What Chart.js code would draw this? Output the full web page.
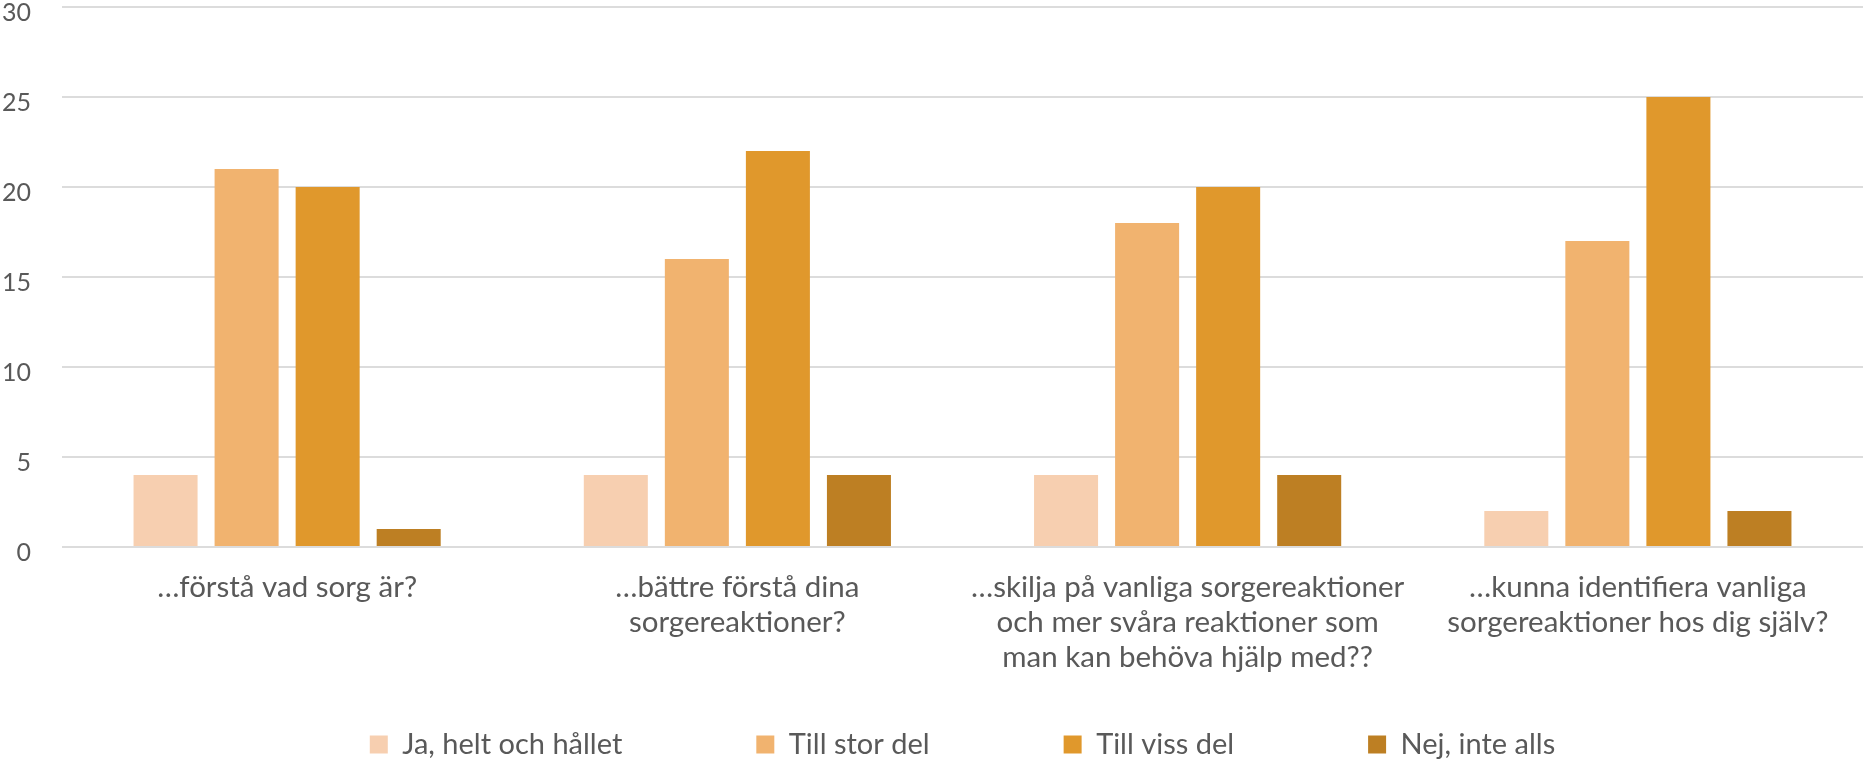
<!DOCTYPE html>
<html>
<head>
<meta charset="utf-8">
<script src="https://cdn.jsdelivr.net/npm/chart.js@4"></script>
<style>
  html, body { margin: 0; padding: 0; background: #fff; }
  #wrap { width: 1864px; height: 761px; }
</style>
</head>
<body>
<div id="wrap"><canvas id="sorgChart" width="1864" height="761"></canvas></div>
<script>
// data
const categories = [
	'…förstå vad sorg är?',
	['…bättre förstå dina', 'sorgereaktioner?'],
	['…skilja på vanliga sorgereaktioner', 'och mer svåra reaktioner som', 'man kan behöva hjälp med??'],
	['…kunna identifiera vanliga', 'sorgereaktioner hos dig själv?'],
]
const seriesNames = ['Ja, helt och hållet', 'Till stor del', 'Till viss del', 'Nej, inte alls']
const jaHelt = [4, 4, 4, 2]
const tillStor = [21, 16, 18, 17]
const tillViss = [20, 22, 20, 25]
const nejInte = [1, 4, 4, 2]
const yTicks = [0, 5, 10, 15, 20, 25, 30]

const colors = ['#F7CFB0', '#F1B36F', '#E0982C', '#BD7F23']
const textColor = '#595959'

// legend row sits at the very bottom, items spread out wide
const legendRow = {
	id: 'legendRow',
	afterLayout(chart) {
		const lg = chart.legend
		const pad = lg.options.labels.padding
		lg.top = lg.bottom - pad - 31
	},
}

const chartData = {
	labels: categories,
	datasets: [jaHelt, tillStor, tillViss, nejInte].map((values, i) => ({
		label: seriesNames[i],
		data: values,
		backgroundColor: colors[i],
		borderWidth: 0,
		categoryPercentage: 0.72,
		barPercentage: 0.79,
	})),
}

const config = {
	type: 'bar',
	data: chartData,
	plugins: [legendRow],
	options: {
		responsive: false,
		animation: false,
		layout: { padding: { top: 7, right: 1, left: 0, bottom: 0 } },
		plugins: {
			tooltip: { enabled: false },
			legend: {
				position: 'bottom',
				fullSize: false,
				maxHeight: 40,
				labels: {
					color: textColor,
					font: { family: 'Lato', size: 29 },
					boxWidth: 18,
					boxHeight: 18,
					padding: 134,
				},
			},
		},
		scales: {
			x: {
				grid: { display: false, drawTicks: false },
				border: { display: false },
				ticks: {
					color: textColor,
					font: { family: 'Lato', size: 29.5, lineHeight: '35px' },
					padding: 23,
					maxRotation: 0,
					autoSkip: false,
				},
				afterFit(scale) {
					scale.height = 174
				},
			},
			y: {
				min: 0,
				max: 30,
				afterBuildTicks(scale) {
					scale.ticks = yTicks.map(v => ({ value: v }))
				},
				grid: { color: '#DCDCDC', lineWidth: 2, drawTicks: false },
				border: { display: false },
				ticks: {
					color: textColor,
					font: { family: 'Lato', size: 25 },
					padding: 31,
					labelOffset: 6,
				},
				afterFit(scale) {
					scale.width = 62
					scale.paddingTop = 0
					scale.paddingBottom = 0
				},
			},
		},
	},
}

const canvaRef = document.querySelector('#sorgChart')
const sorgChart = new Chart(canvaRef, config)
</script>
</body>
</html>
